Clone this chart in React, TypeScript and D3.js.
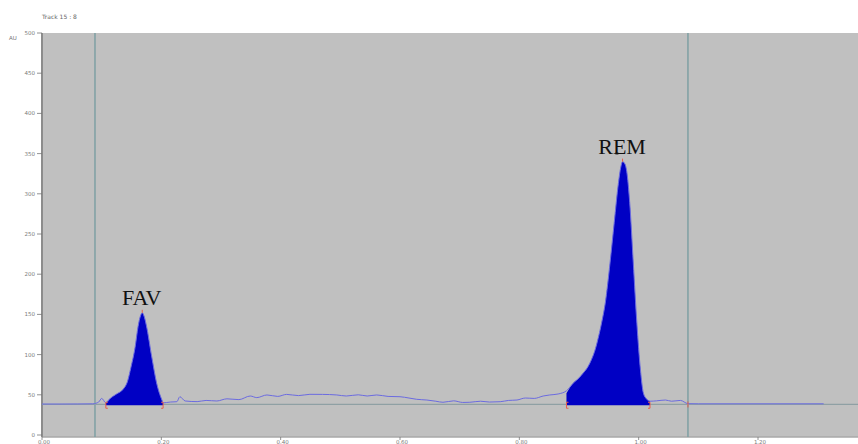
import * as d3 from "d3";

const width = 858;
const height = 444;
const margin = { top: 33, right: 0, bottom: 7, left: 42 };

// densitogram trace (time, AU)
const leadTime = [0.0, 0.03, 0.06, 0.085, 0.095, 0.1, 0.107];
const leadAU = [38.5, 38.5, 38.6, 38.8, 41, 45.5, 40];

const favTime = [0.107, 0.115, 0.125, 0.136, 0.143, 0.149, 0.156, 0.161, 0.165, 0.168, 0.171, 0.175, 0.184, 0.192, 0.201, 0.203];
const favAU = [40, 46, 51, 57, 66, 84, 109, 135, 148, 152, 148, 136, 97, 65, 43.5, 40];

const midTime = [0.203, 0.215, 0.226, 0.231, 0.24, 0.26, 0.275, 0.293, 0.31, 0.33, 0.349, 0.36, 0.377, 0.395, 0.41, 0.43, 0.449, 0.47, 0.494, 0.51, 0.53, 0.545, 0.561, 0.58, 0.6, 0.615, 0.628, 0.645, 0.66, 0.672, 0.69, 0.705, 0.717, 0.735, 0.75, 0.768, 0.782, 0.796, 0.81, 0.825, 0.84, 0.851, 0.865, 0.879];
const midAU = [40, 41, 41.4, 47.6, 42.3, 41.5, 43, 42.3, 45, 44, 48.5, 46.5, 49.8, 48, 50.5, 49, 50.6, 50.5, 49.8, 48.5, 50, 48.5, 49.8, 48, 47.6, 46, 44.4, 43.5, 42, 40.7, 42.5, 40.5, 40.7, 42, 41, 41.4, 43, 43.5, 46, 45.5, 48.5, 49.8, 51, 55];

const remTime = [0.879, 0.89, 0.9, 0.907, 0.915, 0.921, 0.927, 0.932, 0.938, 0.944, 0.952, 0.959, 0.966, 0.97, 0.973, 0.977, 0.98, 0.985, 0.991, 0.997, 1.003, 1.008, 1.013, 1.019];
const remAU = [52, 64.3, 71, 77, 85, 94, 106, 120, 140, 164, 214, 264, 313, 333, 340, 337, 328, 289, 214, 139, 81, 52, 45, 42];

const tailTime = [1.019, 1.03, 1.045, 1.055, 1.07, 1.0826, 1.1, 1.2, 1.31];
const tailAU = [42, 42.5, 43.5, 42, 43, 39, 38.8, 38.8, 38.8];

const baselineAU = 38;
const fillBaseAU = 37;

const yTicks = [0, 50, 100, 150, 200, 250, 300, 350, 400, 450, 500];
const xTicks = [0, 0.2, 0.4, 0.6, 0.8, 1.0, 1.2];
const trackLines = [0.0888, 1.0826];

const peakLabels = ["FAV", "REM"];

const zip = (t: number[], v: number[]) => t.map((d, i) => ({ t: d, v: v[i] }));

const App = () => {
  const x = d3.scaleLinear().domain([0, 1.2]).range([margin.left, 758]);
  const y = d3.scaleLinear().domain([0, 500]).range([435, margin.top]);

  const trace = [
    ...zip(leadTime, leadAU),
    ...zip(favTime, favAU).slice(1),
    ...zip(midTime, midAU).slice(1),
    ...zip(remTime, remAU).slice(1),
    ...zip(tailTime, tailAU).slice(1),
  ];
  const line = d3
    .line<{ t: number; v: number }>()
    .x((d) => x(d.t))
    .y((d) => y(d.v))
    .curve(d3.curveMonotoneX);
  const area = d3
    .area<{ t: number; v: number }>()
    .x((d) => x(d.t))
    .y0(y(fillBaseAU))
    .y1((d) => y(d.v))
    .curve(d3.curveMonotoneX);

  const peaks = [
    { name: peakLabels[0], pts: zip(favTime, favAU) },
    { name: peakLabels[1], pts: zip(remTime, remAU) },
  ];

  const plotBottom = height - margin.bottom;

  return (
    <svg width={width} height={height} style={{ position: "absolute", left: 0, top: 0 }}>
      <rect x={0} y={0} width={width} height={height} fill="#fff" />
      <text x={42} y={19} fontSize={6} fill="#666" fontFamily="DejaVu Sans">
        Track 15 : 8
      </text>
      <text x={9} y={40} fontSize={5.5} fill="#777" fontFamily="DejaVu Sans">
        AU
      </text>
      <rect x={margin.left} y={margin.top} width={width - margin.left} height={plotBottom - margin.top} fill="#c0c0c0" />
      <line x1={margin.left} x2={width} y1={plotBottom} y2={plotBottom} stroke="#a8a8a8" strokeWidth={1.5} />
      <line x1={margin.left} x2={margin.left} y1={margin.top} y2={plotBottom} stroke="#8c8c8c" strokeWidth={2} />

      {yTicks.map((d) => (
        <g key={d}>
          <line x1={37} x2={margin.left} y1={y(d)} y2={y(d)} stroke="#777" strokeWidth={0.8} />
          <text x={35} y={y(d) + 2} fontSize={5.5} textAnchor="end" fill="#7a7a7a" fontFamily="DejaVu Sans">
            {d}
          </text>
        </g>
      ))}
      {xTicks.map((d) => (
        <g key={d}>
          <line x1={x(d)} x2={x(d)} y1={plotBottom} y2={plotBottom + 3} stroke="#777" strokeWidth={0.8} />
          <text x={x(d) + 2} y={plotBottom + 7} fontSize={5.5} textAnchor="middle" fill="#7a7a7a" fontFamily="DejaVu Sans">
            {d.toFixed(2)}
          </text>
        </g>
      ))}

      {trackLines.map((d) => (
        <line key={d} x1={x(d)} x2={x(d)} y1={margin.top} y2={plotBottom} stroke="#7e9fa3" strokeWidth={1.5} />
      ))}
      <line x1={margin.left} x2={width} y1={y(baselineAU)} y2={y(baselineAU)} stroke="#8fa0a4" strokeWidth={1.2} />

      {peaks.map((p) => (
        <path key={p.name} d={area(p.pts) ?? ""} fill="#0000c4" />
      ))}
      <path d={line(trace) ?? ""} fill="none" stroke="#6b6be0" strokeWidth={1} />

      {peaks.map((p) => {
        const first = p.pts[0];
        const last = p.pts[p.pts.length - 1];
        const top = p.pts.reduce((a, b) => (b.v > a.v ? b : a));
        const yb = y(fillBaseAU);
        return (
          <g key={p.name + "m"} stroke="#e8604c" strokeWidth={1} fill="none">
            <path d={`M${x(first.t) + 2},${yb - 3}H${x(first.t)}V${yb + 3}H${x(first.t) + 2}`} />
            <path d={`M${x(last.t) - 2},${yb - 3}H${x(last.t)}V${yb + 3}H${x(last.t) - 2}`} />
            <line x1={x(top.t)} x2={x(top.t)} y1={y(top.v) - 3} y2={y(top.v)} />
          </g>
        );
      })}
      <line x1={x(trackLines[1])} x2={x(trackLines[1])} y1={y(baselineAU) - 3} y2={y(baselineAU) + 3} stroke="#e8604c" strokeWidth={1} />
      <rect x={x(0.961)} y={y(352)} width={3} height={3} fill="#777" />

      {peaks.map((p) => {
        const top = p.pts.reduce((a, b) => (b.v > a.v ? b : a));
        return (
          <text
            key={p.name + "t"}
            x={x(top.t) - 0.5}
            y={y(top.v) - 8}
            fontSize={22}
            textAnchor="middle"
            fill="#111"
            fontFamily="Liberation Serif"
          >
            {p.name}
          </text>
        );
      })}
    </svg>
  );
};

export default App;
